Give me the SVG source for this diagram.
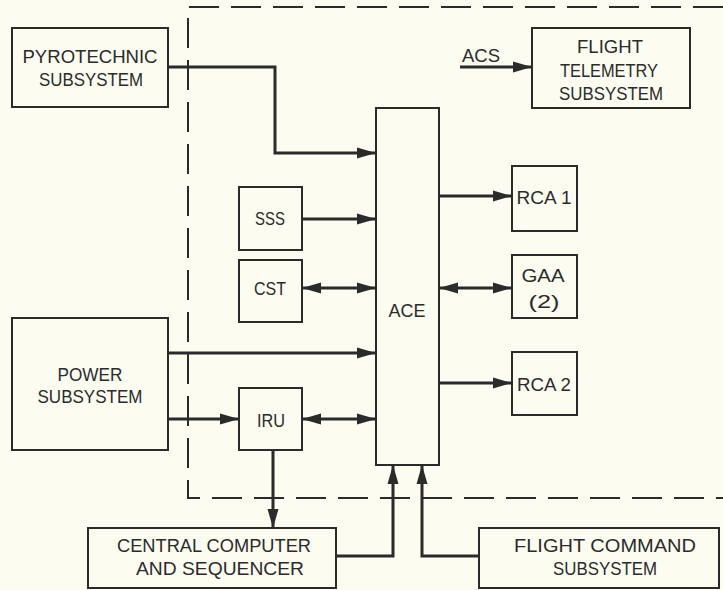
<svg xmlns="http://www.w3.org/2000/svg" width="723" height="590" viewBox="0 0 723 590">
<defs>
<style>
.bx{fill:none;stroke:#2b2b2b;stroke-width:2}
.t{font-family:"Liberation Sans",Arial,sans-serif;font-size:18.5px;fill:#2b2b2b;text-anchor:middle}
.c{fill:none;stroke:#2b2b2b;stroke-width:3}
.a{marker-end:url(#ah)}
.b{marker-start:url(#ah);marker-end:url(#ah)}
.d{fill:none;stroke:#2b2b2b;stroke-width:2;stroke-dasharray:30 12}
</style>
<marker id="ah" markerUnits="userSpaceOnUse" markerWidth="20" markerHeight="12" refX="19" refY="6" orient="auto-start-reverse" viewBox="0 0 20 12">
<path d="M0,0.5 L19,6 L0,11.5 z" fill="#2b2b2b"/>
</marker>
</defs>
<rect width="723" height="590" fill="#fcfcf1"/>
<path class="d" d="M723,7 H188 V498 H723"/>
<g id="pyro"><rect class="bx" x="12" y="28" width="156" height="79"/><text class="t" x="90" y="63" textLength="135" lengthAdjust="spacingAndGlyphs">PYROTECHNIC</text><text class="t" x="91" y="86" textLength="104" lengthAdjust="spacingAndGlyphs">SUBSYSTEM</text></g>
<g id="telemetry"><rect class="bx" x="532" y="28" width="158" height="80"/><text class="t" x="610" y="53" textLength="66" lengthAdjust="spacingAndGlyphs">FLIGHT</text><text class="t" x="609" y="77" textLength="98" lengthAdjust="spacingAndGlyphs">TELEMETRY</text><text class="t" x="611" y="100" textLength="104" lengthAdjust="spacingAndGlyphs">SUBSYSTEM</text></g>
<g id="acs"><text class="t" x="481" y="62" textLength="38" lengthAdjust="spacingAndGlyphs">ACS</text></g>
<g id="ace"><rect class="bx" x="376" y="108" width="63" height="357"/><text class="t" x="407" y="317" textLength="37" lengthAdjust="spacingAndGlyphs">ACE</text></g>
<g id="rca1"><rect class="bx" x="512" y="166" width="65" height="65"/><text class="t" x="544" y="204" textLength="55" lengthAdjust="spacingAndGlyphs">RCA 1</text></g>
<g id="gaa"><rect class="bx" x="512" y="255" width="65" height="63"/><text class="t" x="543" y="282" textLength="43" lengthAdjust="spacingAndGlyphs">GAA</text><text class="t" x="544" y="308" textLength="31" lengthAdjust="spacingAndGlyphs">(2)</text></g>
<g id="rca2"><rect class="bx" x="512" y="352" width="65" height="63"/><text class="t" x="544" y="391" textLength="54" lengthAdjust="spacingAndGlyphs">RCA 2</text></g>
<g id="sss"><rect class="bx" x="239" y="187" width="63" height="63"/><text class="t" x="270" y="225" textLength="30" lengthAdjust="spacingAndGlyphs">SSS</text></g>
<g id="cst"><rect class="bx" x="239" y="260" width="63" height="62"/><text class="t" x="270" y="295" textLength="32" lengthAdjust="spacingAndGlyphs">CST</text></g>
<g id="power"><rect class="bx" x="12" y="318" width="156" height="132"/><text class="t" x="90" y="381" textLength="65" lengthAdjust="spacingAndGlyphs">POWER</text><text class="t" x="90" y="403" textLength="105" lengthAdjust="spacingAndGlyphs">SUBSYSTEM</text></g>
<g id="iru"><rect class="bx" x="239" y="388" width="63" height="62"/><text class="t" x="271" y="427" textLength="28" lengthAdjust="spacingAndGlyphs">IRU</text></g>
<g id="ccs"><rect class="bx" x="88" y="528" width="248" height="60"/><text class="t" x="214" y="552" textLength="194" lengthAdjust="spacingAndGlyphs">CENTRAL COMPUTER</text><text class="t" x="220" y="575" textLength="168" lengthAdjust="spacingAndGlyphs">AND SEQUENCER</text></g>
<g id="fcs"><rect class="bx" x="479" y="528" width="240" height="60"/><text class="t" x="605" y="552" textLength="182" lengthAdjust="spacingAndGlyphs">FLIGHT COMMAND</text><text class="t" x="605" y="575" textLength="104" lengthAdjust="spacingAndGlyphs">SUBSYSTEM</text></g>
<g id="connectors">
<path class="c a" d="M168,67 H275 V153 H376"/>
<path class="c a" d="M460,67 H532"/>
<path class="c a" d="M302,219 H376"/>
<path class="c b" d="M302,288 H376"/>
<path class="c a" d="M168,353 H376"/>
<path class="c a" d="M168,419 H239"/>
<path class="c b" d="M302,419 H376"/>
<path class="c a" d="M439,196 H512"/>
<path class="c b" d="M439,288 H512"/>
<path class="c a" d="M439,383 H512"/>
<path class="c a" d="M273,450 V528"/>
<path class="c a" d="M336,556 H393 V465"/>
<path class="c a" d="M479,556 H422 V465"/>
</g>
</svg>
